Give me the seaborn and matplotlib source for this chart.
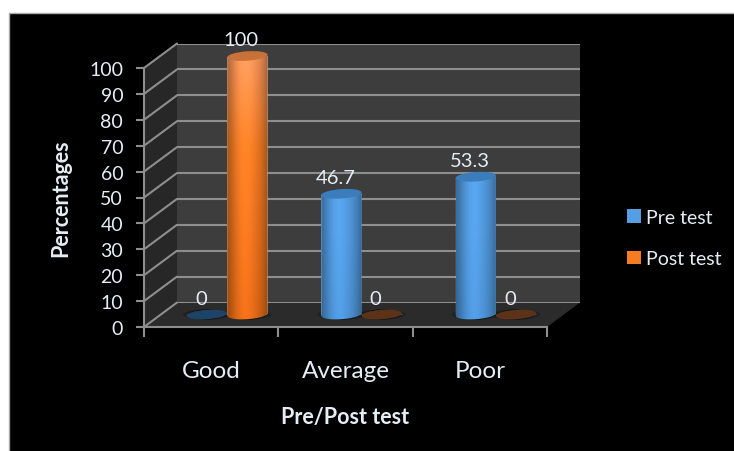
import numpy as np
import pandas as pd
import seaborn as sns
import matplotlib.pyplot as plt
from matplotlib.patches import Ellipse, Polygon, Rectangle
from matplotlib.path import Path
from matplotlib.transforms import IdentityTransform
from matplotlib.colors import to_rgb

categories = ['Good', 'Average', 'Poor']
pre_test = [0, 46.7, 53.3]
post_test = [100, 0, 0]
labels_pre = ['0', '46.7', '53.3']
labels_post = ['100', '0', '0']
y_ticks = list(range(0, 101, 10))
series_names = ['Pre test', 'Post test']

W, H = 734, 452
GRID = '#8e8e8e'
TEXT = '#e6edf5'
BLUE = '#549ee4'
ORANGE = '#f67c22'

sns.set_theme(style='dark')
plt.rcParams['font.family'] = ['Lato', 'DejaVu Sans']


def box(left, right, top, bottom):
    # pixel box (y from top) to figure fractions
    return [left / W, 1 - bottom / H, (right - left) / W, (bottom - top) / H]


fig = plt.figure(figsize=(W / 100, H / 100), dpi=100, facecolor='white')

# black panel, floor and side wall, in picture pixels
bg = fig.add_axes([0, 0, 1, 1])
bg.set_xlim(0, W)
bg.set_ylim(H, 0)
bg.axis('off')
bg.add_patch(Rectangle((9, 14), W, H, fc='black', ec='#a8a8a8', lw=1))
bg.add_patch(Polygon([(144, 69), (177, 44.5), (177, 303.5), (144, 328)], fc='#272727', ec='none'))
bg.add_patch(Polygon([(144, 328), (177, 303.5), (580, 303.5), (547, 328)], fc='#2b2b2b', ec='none'))
for v in y_ticks:
    dy = v * 2.59
    bg.plot([144, 177], [328 - dy, 303.5 - dy], color=GRID, lw=1.5)

# back wall
wall = fig.add_axes(box(177, 580, 44.5, 303.5), facecolor='#3d3d3d')
wall.set_xlim(0, 1)
wall.set_ylim(0, 100)
wall.set_xticks([])
wall.set_yticks(y_ticks)
wall.tick_params(left=False, labelleft=False)
wall.grid(axis='y', color=GRID, lw=1.5)
sns.despine(ax=wall, left=True, bottom=True, right=True, top=True)
wall.set_ylabel('')

# bars
df = pd.DataFrame({
    'category': categories * 2,
    'value': pre_test + post_test,
    'series': [series_names[0]] * 3 + [series_names[1]] * 3,
})
ax = fig.add_axes(box(160, 563, 57, 315.5), facecolor='none')
sns.barplot(data=df, x='category', y='value', hue='series', order=categories,
            hue_order=series_names, palette=[BLUE, ORANGE], width=0.6, gap=0,
            saturation=1, ax=ax)
ax.set_xlim(-0.5, 2.5)
ax.set_ylim(0, 100)
ax.set_xticks([])
ax.set_yticks([])
ax.set_xlabel('')
ax.set_ylabel('')
sns.despine(ax=ax, left=True, bottom=True, right=True, top=True)

TILT = np.deg2rad(4)
RY = 4.7
shade = np.array([0.68, 0.8, 0.93, 1.02, 1.06, 1.03, 0.97, 0.9, 0.8, 0.66])
style = {
    0: dict(top='#3b7cbc', flat='#1d4466', high=BLUE, mid=BLUE, low='#4f97dc'),
    1: dict(top='#c87139', flat='#5c3318', high='#ff9c60', mid='#fb7f26', low='#e96d18'),
}
disp = ax.transData.transform

for s, (cont, texts) in enumerate(zip(ax.containers, [labels_pre, labels_post])):
    st = style[s]
    for bar, txt in zip(cont, texts):
        x0, w, h = bar.get_x(), bar.get_width(), bar.get_height()
        xm = x0 + w / 2
        cx, by = disp((xm, 0))
        _, ty = disp((xm, h))
        rx = (disp((x0 + w, 0))[0] - disp((x0, 0))[0]) / 2

        # soft contact shadow on the floor
        for k, a in zip([2.4, 1.9, 1.45], [0.2, 0.25, 0.35]):
            ax.add_patch(Ellipse((cx, by), rx * k, RY * 2.2, angle=0, fc='black', ec='none', alpha=a,
                                 transform=IdentityTransform(), clip_on=False, zorder=0.5))

        if h == 0:
            ax.add_patch(Ellipse((cx, by), rx * 2, RY * 2, angle=np.rad2deg(TILT), fc=st['flat'],
                                 ec='none', transform=IdentityTransform(), clip_on=False, zorder=4))
        else:
            t = np.linspace(np.pi, 2 * np.pi, 40)
            ex = rx * np.cos(t)
            ey = RY * np.sin(t)
            px = cx + ex * np.cos(TILT) - ey * np.sin(TILT)
            py = by + ex * np.sin(TILT) + ey * np.cos(TILT)
            verts = list(zip(px, py))
            verts += [(cx + rx, ty + rx * np.sin(TILT)), (cx - rx, ty - rx * np.sin(TILT))]
            outline = Path(verts + [verts[0]], closed=True)
            bar.set_clip_path(outline, IdentityTransform())

            # cylinder shading, horizontal profile times vertical tone
            rows = np.linspace(0, 1, 24)
            tones = np.array([to_rgb(st['high']), to_rgb(st['mid']), to_rgb(st['low'])])
            col = np.stack([np.interp(rows, [0, 0.35, 1], tones[:, c]) for c in range(3)], axis=1)
            xs = np.linspace(0, 9, 60)
            prof = np.interp(xs, np.arange(10), shade)
            img = np.clip(col[:, None, :] * prof[None, :, None], 0, 1)
            margin = 4
            im = ax.imshow(img, extent=(x0, x0 + w, -margin, h + margin), origin='upper',
                           aspect='auto', interpolation='bilinear', zorder=3)
            im.set_clip_box(fig.bbox)
            im.set_clip_path(outline, IdentityTransform())
            ax.add_patch(Ellipse((cx, ty), rx * 2, RY * 2, angle=np.rad2deg(TILT), fc=st['top'],
                                 ec='none', transform=IdentityTransform(), clip_on=False, zorder=4))

        ax.annotate(txt, (xm, h), xytext=(-6, 16), textcoords='offset pixels', ha='center',
                    va='center', color=TEXT, fontsize=14.5, zorder=6, annotation_clip=False)

ax.set_xlim(-0.5, 2.5)
ax.set_ylim(0, 100)

sns.move_legend(ax, 'upper left', bbox_to_anchor=(627 / W, 1 - 210 / H), bbox_transform=fig.transFigure,
                frameon=False, title=None, fontsize=14, labelcolor=TEXT, borderpad=0, borderaxespad=0,
                handlelength=0.7, handleheight=0.7, handletextpad=0.3, labelspacing=1.25)
for handle in ax.get_legend().get_patches():
    handle.set_edgecolor('none')

# front axis with the ticks and labels
front = fig.add_axes(box(144, 547, 69, 328), facecolor='none')
front.set_xlim(-0.5, 2.5)
front.set_ylim(0, 100)
front.set_yticks(y_ticks)
front.set_xticks([-0.5, 0.5, 1.5, 2.5])
front.set_xticklabels([])
front.set_xticks(range(len(categories)), labels=categories, minor=True)
front.tick_params(axis='y', left=True, length=6, width=1.5, color=GRID, labelcolor=TEXT, labelsize=14, pad=9)
front.tick_params(axis='x', which='major', bottom=True, length=7, width=1.5, color=GRID)
front.tick_params(axis='x', which='minor', bottom=False, labelcolor=TEXT, labelsize=17.5, pad=20)
for name in ['top', 'right']:
    front.spines[name].set_visible(False)
for name in ['left', 'bottom']:
    front.spines[name].set_color(GRID)
    front.spines[name].set_linewidth(1.5)
front.grid(False)
front.set_xlabel('Pre/Post test', color=TEXT, fontsize=15.5, fontweight='bold', labelpad=18)
front.set_ylabel('Percentages', color=TEXT, fontsize=15.5, fontweight='bold', labelpad=13)

fig.savefig('out.png', dpi=100, facecolor='white')
